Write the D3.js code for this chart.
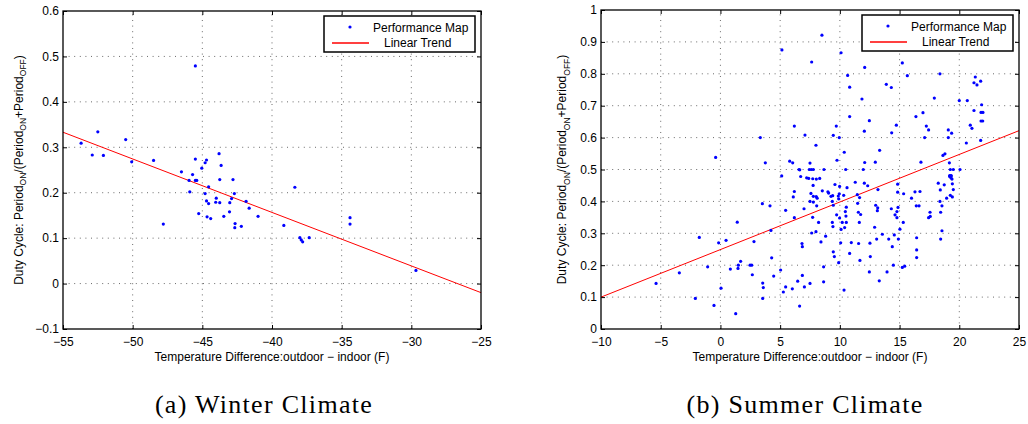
<!DOCTYPE html>
<html>
<head>
<meta charset="utf-8">
<script src="https://cdn.jsdelivr.net/npm/d3@7"></script>
<style>
  body { margin: 0; background: #fff; }
  svg { display: block; font-family: "Liberation Sans", Arial, Helvetica, sans-serif; }
</style>
</head>
<body>
<svg id="chart" width="1028" height="424"></svg>
<script>
// ---- data: [temperature difference (F), duty cycle] ----
const winterPoints = [
  [-53.7,0.309],[-52.9,0.283],[-52.5,0.334],[-52.1,0.282],[-50.5,0.317],[-50.07,0.268],
  [-48.5,0.271],[-47.8,0.131],[-46.5,0.246],[-45.7,0.240],[-45.5,0.479],[-45.5,0.274],
  [-45.95,0.227],[-45.5,0.227],[-45.4,0.227],[-45.04,0.254],[-44.8,0.266],[-44.7,0.272],
  [-45.9,0.202],[-44.8,0.198],[-44.55,0.213],[-43.8,0.286],[-43.65,0.260],[-43.75,0.229],
  [-42.8,0.229],[-44.0,0.188],[-42.9,0.187],[-42.7,0.198],[-44.7,0.182],[-44.55,0.176],
  [-45.26,0.154],[-44.66,0.147],[-44.4,0.143],[-44.04,0.179],[-43.75,0.178],[-43.46,0.148],
  [-43.05,0.158],[-43.03,0.178],[-42.65,0.132],[-42.67,0.123],[-42.2,0.126],[-41.86,0.181],
  [-41.64,0.166],[-41.0,0.148],[-39.15,0.128],[-38.36,0.212],[-38.0,0.101],[-37.9,0.096],
  [-37.8,0.092],[-37.33,0.101],[-34.4,0.145],[-34.4,0.131],[-29.67,0.029]
];

const summerPoints = [
  [-0.4,0.538],[3.34,0.600],[3.76,0.521],[5.15,0.875],[5.13,0.480],[6.19,0.636],[5.8,0.526],
  [6.05,0.521],[6.58,0.500],[6.72,0.478],[7.08,0.608],[7.22,0.474],[7.39,0.472],[7.5,0.520],
  [7.44,0.500],[7.61,0.500],[7.78,0.500],[7.64,0.837],[8.0,0.576],[8.03,0.470],[8.31,0.472],
  [8.5,0.921],[8.67,0.500],[9.45,0.607],[9.7,0.636],[9.76,0.529],[9.95,0.600],[10.1,0.866],
  [10.37,0.554],[10.49,0.500],[10.65,0.795],[10.82,0.758],[10.82,0.666],[11.85,0.721],
  [12.05,0.620],[12.08,0.820],[12.08,0.522],[11.96,0.500],[12.47,0.653],[12.97,0.523],
  [13.33,0.560],[13.89,0.767],[14.31,0.757],[14.34,0.615],[14.73,0.639],[15.23,0.834],
  [15.65,0.794],[16.37,0.666],[16.79,0.523],[16.96,0.678],[17.24,0.636],[17.43,0.624],
  [17.1,0.600],[17.91,0.724],[18.38,0.800],[18.63,0.544],[18.8,0.549],[19.08,0.624],
  [19.36,0.614],[19.08,0.600],[19.17,0.521],[19.25,0.500],[19.5,0.500],[19.3,0.481],
  [19.3,0.474],[20.0,0.716],[20.06,0.500],[20.67,0.716],[20.59,0.583],[20.92,0.639],
  [21.06,0.629],[21.23,0.685],[21.23,0.772],[21.34,0.790],[21.48,0.765],[21.79,0.777],
  [21.87,0.703],[21.82,0.679],[21.98,0.679],[21.82,0.652],[21.96,0.652],[21.79,0.591],
  [6.64,0.499],[7.73,0.471],[7.76,0.450],[8.53,0.433],[7.78,0.416],[8.02,0.415],[8.1,0.410],
  [7.5,0.400],[7.78,0.398],[9.87,0.417],[9.9,0.408],[10.6,0.443],[12.05,0.457],[12.33,0.449],
  [-5.39,0.143],[-3.44,0.176],[-2.10,0.096],[-1.77,0.287],[-1.07,0.195],[-0.54,0.074],
  [-0.15,0.270],[0.05,0.128],[0.47,0.278],[0.83,0.188],[1.28,0.048],[1.41,0.335],[1.47,0.190],
  [1.50,0.200],[1.69,0.212],[2.48,0.200],[2.62,0.200],[2.67,0.170],[2.81,0.274],[3.51,0.393],
  [3.54,0.144],[3.59,0.130],[3.54,0.096],[4.15,0.386],[4.23,0.309],[4.29,0.223],[4.46,0.166],
  [5.04,0.185],[5.27,0.116],[5.46,0.132],[5.46,0.372],[6.02,0.126],[6.10,0.414],[6.19,0.431],
  [6.19,0.349],[6.47,0.150],[6.63,0.072],[6.83,0.268],[6.86,0.258],[6.86,0.168],[7.0,0.377],
  [7.03,0.132],[7.5,0.143],[7.58,0.425],[7.64,0.301],[7.72,0.350],[8.06,0.386],[8.0,0.305],
  [8.22,0.334],[8.42,0.273],[8.64,0.195],[8.64,0.148],[8.81,0.291],[9.0,0.430],[9.06,0.426],
  [9.26,0.416],[9.4,0.418],[9.37,0.400],[9.45,0.388],[9.37,0.334],[9.42,0.321],[9.45,0.242],
  [9.54,0.227],[9.59,0.453],[9.73,0.358],[9.9,0.208],[9.95,0.424],[9.98,0.447],[9.98,0.348],
  [10.07,0.270],[10.1,0.312],[10.2,0.334],[10.32,0.419],[10.35,0.122],[10.4,0.318],
  [10.46,0.368],[10.54,0.382],[10.51,0.354],[10.54,0.334],[10.82,0.237],[10.96,0.271],
  [11.29,0.460],[11.46,0.421],[11.49,0.394],[11.57,0.268],[11.63,0.334],[11.65,0.412],
  [11.55,0.366],[11.68,0.215],[11.74,0.359],[12.52,0.269],[12.55,0.227],[12.47,0.179],
  [13.0,0.388],[12.91,0.319],[13.14,0.371],[13.17,0.380],[13.19,0.437],[13.08,0.282],
  [13.3,0.151],[13.56,0.297],[13.95,0.179],[14.09,0.282],[14.31,0.377],[14.39,0.258],
  [14.48,0.200],[14.56,0.295],[14.62,0.358],[14.78,0.368],[14.84,0.454],[14.87,0.381],
  [14.9,0.282],[14.84,0.429],[15.03,0.313],[14.78,0.349],[15.23,0.193],[15.43,0.197],
  [15.31,0.334],[15.34,0.424],[16.0,0.410],[16.29,0.430],[16.43,0.248],[16.43,0.224],
  [16.43,0.286],[16.4,0.386],[16.63,0.386],[16.71,0.431],[17.43,0.349],[17.55,0.366],
  [17.57,0.353],[18.24,0.457],[18.74,0.452],[18.41,0.436],[18.38,0.400],[18.44,0.366],
  [18.44,0.282],[18.55,0.386],[18.55,0.308],[18.94,0.410],[19.19,0.481],[19.19,0.478],
  [19.33,0.480],[19.39,0.470],[19.25,0.419],[19.42,0.414],[19.5,0.437],[19.42,0.455]
];

// linear trend coefficients: duty = slope * dT + intercept
const winterTrend = { slope: -0.01177, intercept: -0.3142 };
const summerTrend = { slope: 0.01491, intercept: 0.249 };

// axis ranges and tick values
const winterXTicks = [-55, -50, -45, -40, -35, -30, -25];
const winterYTicks = [-0.1, 0, 0.1, 0.2, 0.3, 0.4, 0.5, 0.6];
const summerXTicks = [-10, -5, 0, 5, 10, 15, 20, 25];
const summerYTicks = [0, 0.1, 0.2, 0.3, 0.4, 0.5, 0.6, 0.7, 0.8, 0.9, 1];

const legendLabels = ["Performance Map", "Linear Trend"];
const xAxisTitle = "Temperature Difference:outdoor \u2212 indoor (F)";
const captions = ["(a) Winter Climate", "(b) Summer Climate"];

const svg = d3.select("#chart");

const fmt = d => {
  const s = String(+d.toFixed(2));
  return s.startsWith("-") ? "\u2212" + s.slice(1) : s;
};

function drawPanel(p) {
  const x = d3.scaleLinear().domain(d3.extent(p.xTicks)).range([p.left, p.right]);
  const y = d3.scaleLinear().domain(d3.extent(p.yTicks)).range([p.bottom, p.top]);
  const g = svg.append("g");

  // dotted grid
  const grid = g.append("g").attr("stroke", "#6a6a6a").attr("stroke-width", 1)
    .attr("stroke-dasharray", "1,4.6");
  grid.selectAll("line.vx").data(p.xTicks.slice(1, -1)).join("line")
    .attr("x1", d => x(d)).attr("x2", d => x(d))
    .attr("y1", p.bottom).attr("y2", p.top);
  grid.selectAll("line.hy").data(p.yTicks.slice(1, -1)).join("line")
    .attr("x1", p.left).attr("x2", p.right)
    .attr("y1", d => y(d)).attr("y2", d => y(d));

  // axes with inward ticks on all four sides
  const axes = [
    d3.axisBottom(x).tickValues(p.xTicks).tickSize(-4).tickPadding(8).tickFormat(fmt),
    d3.axisTop(x).tickValues(p.xTicks).tickSize(-4).tickFormat(""),
    d3.axisLeft(y).tickValues(p.yTicks).tickSize(-4).tickPadding(4).tickFormat(fmt),
    d3.axisRight(y).tickValues(p.yTicks).tickSize(-4).tickFormat("")
  ];
  const shifts = [[0, p.bottom], [0, p.top], [p.left, 0], [p.right, 0]];
  axes.forEach((ax, i) => {
    const a = g.append("g").attr("transform", `translate(${shifts[i][0]},${shifts[i][1]})`).call(ax);
    a.select(".domain").remove();
    a.selectAll("line").attr("stroke", "#000");
    a.selectAll("text").attr("font-size", 12).attr("fill", "#000")
      .attr("font-family", "\"Liberation Sans\", Arial, sans-serif");
  });

  // trend line
  const xd = x.domain();
  g.append("line")
    .attr("x1", x(xd[0])).attr("y1", y(p.trend.slope * xd[0] + p.trend.intercept))
    .attr("x2", x(xd[1])).attr("y2", y(p.trend.slope * xd[1] + p.trend.intercept))
    .attr("stroke", "#ff0000").attr("stroke-width", 1);

  // scatter points
  g.append("g").selectAll("circle").data(p.points).join("circle")
    .attr("cx", d => x(d[0])).attr("cy", d => y(d[1]))
    .attr("r", 1.6).attr("fill", "#0000ff");

  // frame
  g.append("rect").attr("x", p.left).attr("y", p.top)
    .attr("width", p.right - p.left).attr("height", p.bottom - p.top)
    .attr("fill", "none").attr("stroke", "#000").attr("stroke-width", 1.3);

  // axis titles
  g.append("text").attr("x", (p.left + p.right) / 2).attr("y", p.bottom + 32)
    .attr("text-anchor", "middle").attr("font-size", 12).text(xAxisTitle);

  const yt = g.append("text")
    .attr("transform", `translate(${p.yTitleX},${(p.top + p.bottom) / 2}) rotate(-90)`)
    .attr("text-anchor", "middle").attr("font-size", 12);
  const parts = [["Duty Cycle: Period", false], ["ON", true], ["/(Period", false], ["ON", true],
                 ["+Period", false], ["OFF", true], [")", false]];
  let sub = false;
  parts.forEach(([t, isSub]) => {
    const ts = yt.append("tspan").text(t);
    if (isSub !== sub) ts.attr("dy", isSub ? 3.5 : -3.5);
    if (isSub) ts.attr("font-size", 8.5);
    sub = isSub;
  });

  // legend
  const lx = Math.round(p.right - 157), ly = Math.round(p.top + 5);
  const lg = g.append("g");
  lg.append("rect").attr("x", lx).attr("y", ly).attr("width", 151).attr("height", 36)
    .attr("fill", "#fff").attr("stroke", "#000").attr("stroke-width", 1.5);
  lg.append("circle").attr("cx", lx + 26).attr("cy", ly + 11).attr("r", 1.6).attr("fill", "#0000ff");
  lg.append("line").attr("x1", lx + 8).attr("x2", lx + 45)
    .attr("y1", ly + 27).attr("y2", ly + 27)
    .attr("stroke", "#ff0000").attr("stroke-width", 1.4);
  lg.append("text").attr("x", lx + 49).attr("y", ly + 15.5).attr("font-size", 12).text(legendLabels[0]);
  lg.append("text").attr("x", lx + 60).attr("y", ly + 31).attr("font-size", 12).text(legendLabels[1]);

  // caption
  svg.append("text").attr("x", p.captionX).attr("y", 413).attr("text-anchor", "middle")
    .attr("font-family", "\"Liberation Serif\", \"Times New Roman\", serif")
    .attr("font-size", 26).attr("letter-spacing", 1.3).text(p.caption);
}

drawPanel({
  left: 63, right: 481, top: 11, bottom: 329,
  xTicks: winterXTicks, yTicks: winterYTicks,
  points: winterPoints, trend: winterTrend,
  yTitleX: 22.5, caption: captions[0], captionX: 264
});
drawPanel({
  left: 601, right: 1019, top: 10, bottom: 329,
  xTicks: summerXTicks, yTicks: summerYTicks,
  points: summerPoints, trend: summerTrend,
  yTitleX: 566, caption: captions[1], captionX: 805
});
</script>
</body>
</html>
